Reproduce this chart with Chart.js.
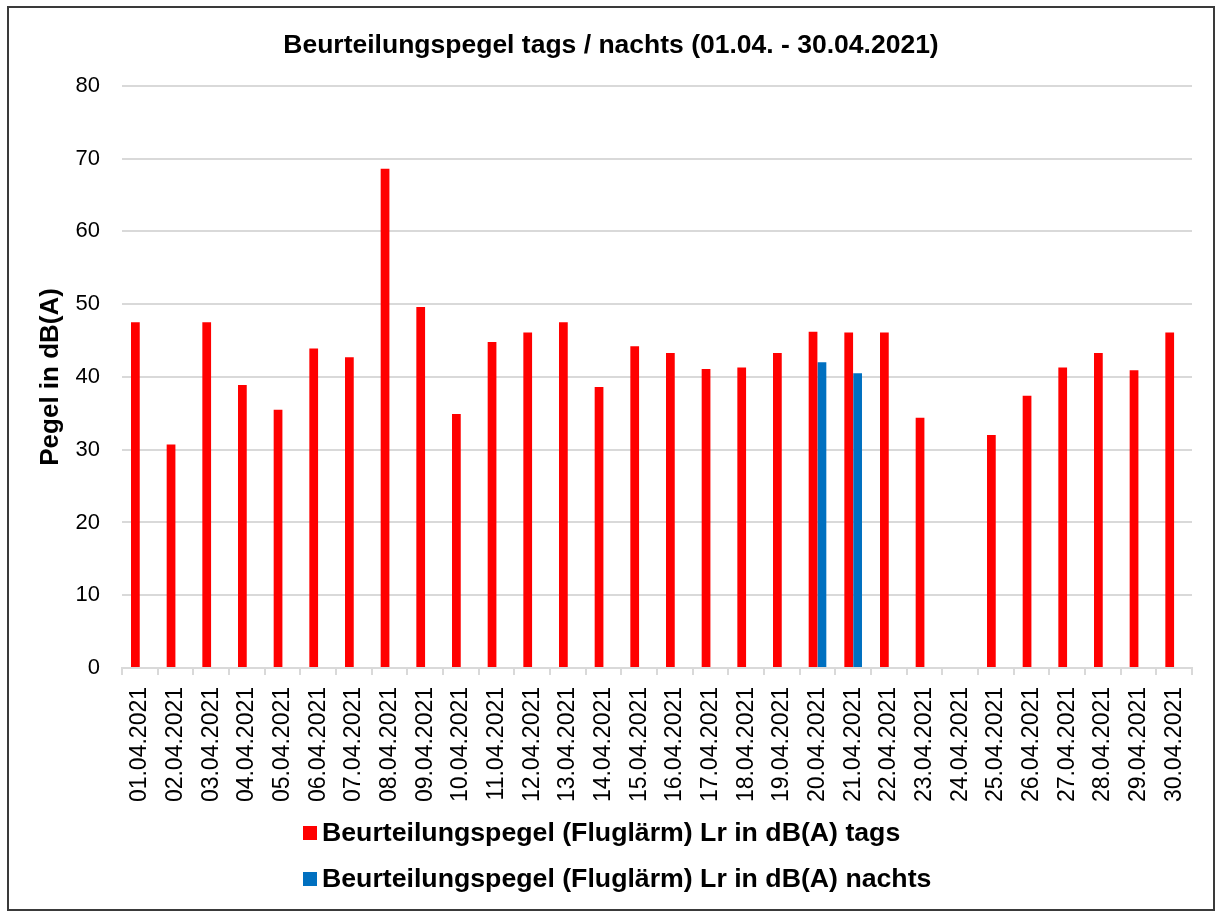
<!DOCTYPE html>
<html>
<head>
<meta charset="utf-8">
<script src="https://cdn.jsdelivr.net/npm/chart.js@4/dist/chart.umd.min.js"></script>
<style>
  html, body { margin: 0; padding: 0; background: #ffffff; }
  #wrap { position: relative; width: 1217px; height: 913px; }
</style>
</head>
<body>
<div id="wrap"><canvas id="c" width="1217" height="913"></canvas></div>
<script>
const categories = [
  "01.04.2021","02.04.2021","03.04.2021","04.04.2021","05.04.2021",
  "06.04.2021","07.04.2021","08.04.2021","09.04.2021","10.04.2021",
  "11.04.2021","12.04.2021","13.04.2021","14.04.2021","15.04.2021",
  "16.04.2021","17.04.2021","18.04.2021","19.04.2021","20.04.2021",
  "21.04.2021","22.04.2021","23.04.2021","24.04.2021","25.04.2021",
  "26.04.2021","27.04.2021","28.04.2021","29.04.2021","30.04.2021"
];
const tagsValues = [
  47.5, 30.7, 47.5, 38.9, 35.5, 43.9, 42.7, 68.6, 49.6, 34.9,
  44.8, 46.1, 47.5, 38.6, 44.2, 43.3, 41.1, 41.3, 43.3, 46.2,
  46.1, 46.1, 34.4, null, 32.0, 37.4, 41.3, 43.3, 40.9, 46.1
];
const nachtsValues = [
  null, null, null, null, null, null, null, null, null, null,
  null, null, null, null, null, null, null, null, null, 42.0,
  40.5, null, null, null, null, null, null, null, null, null
];
const seriesLabels = [
  "Beurteilungspegel (Fluglärm) Lr in dB(A) tags",
  "Beurteilungspegel (Fluglärm) Lr in dB(A) nachts"
];
const seriesColors = ["#ff0000", "#0070c0"];
const titleText = "Beurteilungspegel tags / nachts (01.04. - 30.04.2021)";
const yAxisTitle = "Pegel in dB(A)";

const FONT = "'Liberation Sans', Arial, Helvetica, sans-serif";

const frameAndLegend = {
  id: 'frameAndLegend',
  beforeDraw(chart) {
    const ctx = chart.ctx;
    ctx.save();
    ctx.fillStyle = '#ffffff';
    ctx.fillRect(0, 0, chart.width, chart.height);
    ctx.restore();
  },
  afterDraw(chart) {
    const ctx = chart.ctx;
    ctx.save();
    ctx.strokeStyle = '#3a3a3a';
    ctx.lineWidth = 2;
    ctx.strokeRect(8, 7, 1206, 903);
    // legend (stacked vertically, left aligned)
    const x0 = 303, rows = [833, 879];
    ctx.font = "bold 26.7px " + FONT;
    ctx.textBaseline = 'middle';
    ctx.textAlign = 'left';
    chart.data.datasets.forEach((ds, i) => {
      ctx.fillStyle = ds.backgroundColor;
      ctx.fillRect(x0, rows[i] - 7, 14, 14);
      ctx.fillStyle = '#000000';
      ctx.fillText(ds.label, x0 + 19, rows[i] + 1);
    });
    ctx.restore();
  }
};

new Chart(document.getElementById('c'), {
  type: 'bar',
  data: {
    labels: categories,
    datasets: [
      { label: seriesLabels[0], data: tagsValues, backgroundColor: seriesColors[0],
        categoryPercentage: 0.5, barPercentage: 0.98 },
      { label: seriesLabels[1], data: nachtsValues, backgroundColor: seriesColors[1],
        categoryPercentage: 0.5, barPercentage: 0.98 }
    ]
  },
  options: {
    responsive: false,
    animation: false,
    layout: { padding: { left: 30, right: 25, top: 0, bottom: 100 } },
    plugins: {
      legend: { display: false },
      tooltip: { enabled: false },
      title: {
        display: true,
        text: titleText,
        color: '#000000',
        font: { family: FONT, size: 26.5, weight: 'bold', lineHeight: 1.2 },
        padding: { top: 30, bottom: 24 }
      }
    },
    scales: {
      x: {
        grid: { drawOnChartArea: false, drawTicks: true, tickLength: 7, color: '#d9d9d9', lineWidth: 2 },
        border: { display: true, color: '#d9d9d9', width: 2 },
        ticks: {
          color: '#000000', font: { family: FONT, size: 23 },
          minRotation: 90, maxRotation: 90, autoSkip: false, padding: 12
        },
        afterFit(scale) { scale.height = 145; }
      },
      y: {
        min: 0, max: 80,
        grid: { drawTicks: false, color: '#d9d9d9', lineWidth: 2 },
        border: { display: false },
        ticks: { stepSize: 10, color: '#000000', font: { family: FONT, size: 22 }, padding: 22 },
        title: {
          display: true, text: yAxisTitle, color: '#000000',
          font: { family: FONT, size: 26, weight: 'bold', lineHeight: 1.2 },
          padding: { top: 5, bottom: 0 }
        },
        afterFit(scale) { scale.width = 92; }
      }
    }
  },
  plugins: [frameAndLegend]
});
</script>
</body>
</html>
